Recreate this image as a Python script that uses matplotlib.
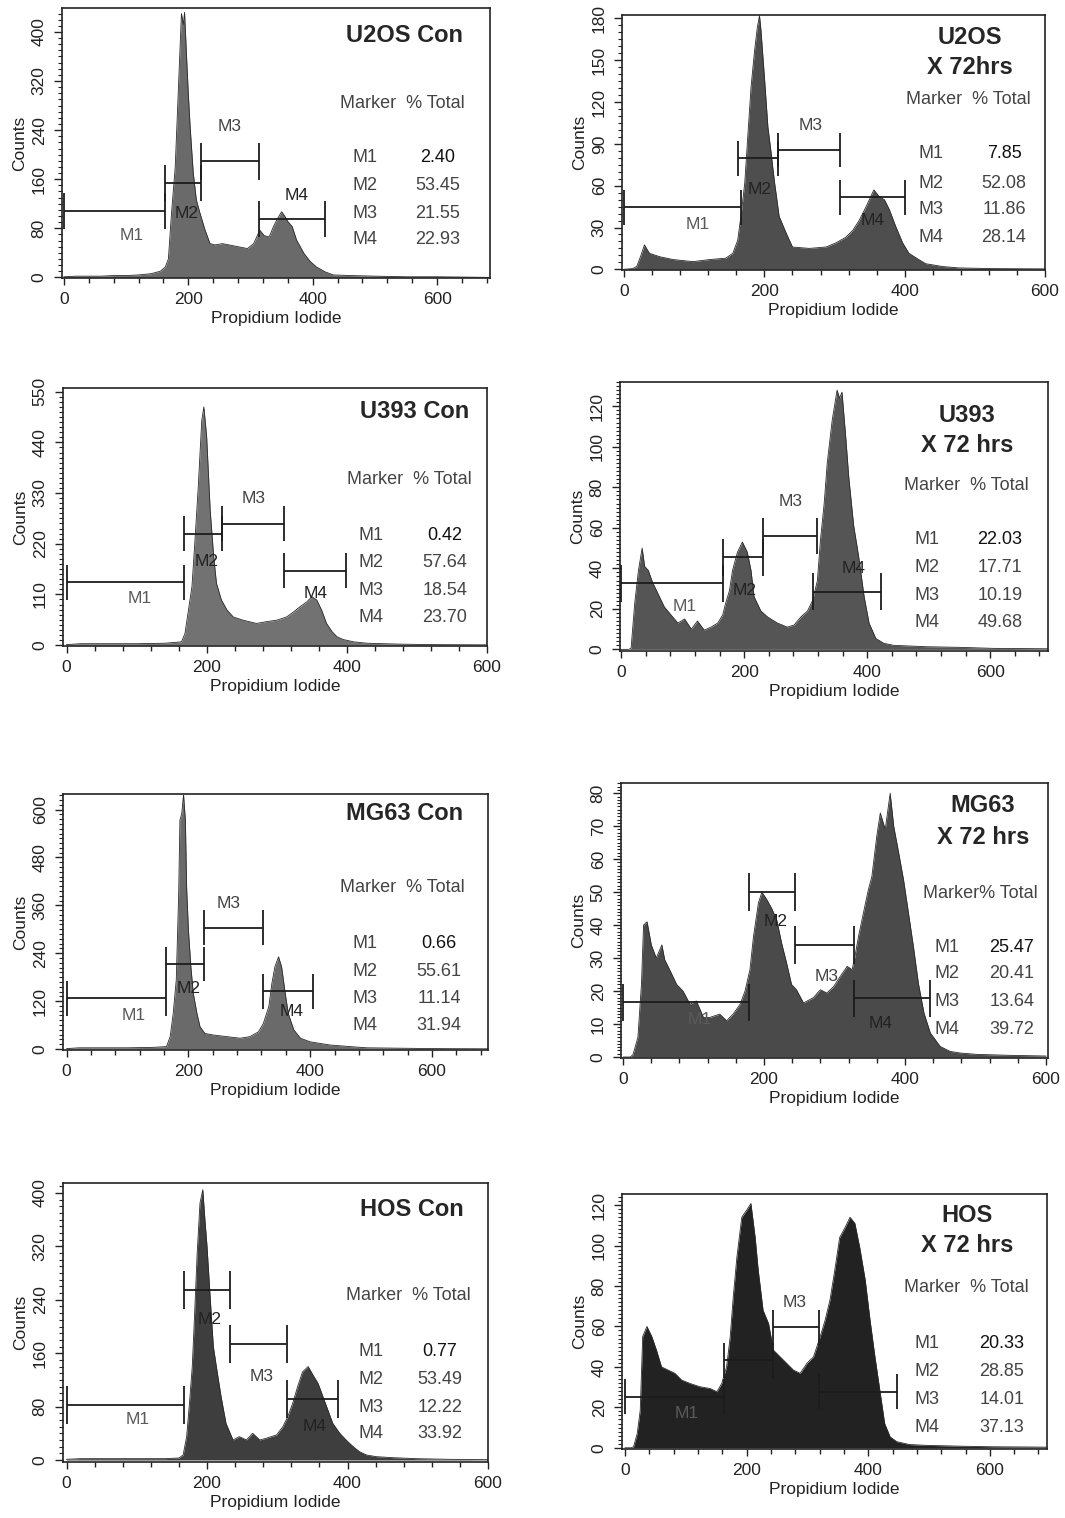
"""
Cell-cycle PI histograms: four cell lines, control vs 72 hrs treatment.
Eight panels laid out 4 x 2 on a page-sized figure.
"""

import matplotlib.pyplot as plt
import matplotlib.ticker as mticker

W, H = 1065, 1518

plt.rcParams['font.family'] = ['Liberation Sans', 'DejaVu Sans']

# ── Histogram readings: Propidium Iodide channel vs counts ────────────────────
u2os_con_pi = [0, 20, 40, 60, 80, 100, 120, 140, 155, 163, 168, 173, 179, 184, 189, 192, 194, 197,
               200, 203, 208, 213, 219, 227, 235, 243, 255, 270, 285, 295, 305, 315, 322, 330,
               337, 343, 350, 355, 360, 367, 374, 380, 386, 396, 406, 420, 433, 460, 500, 550, 600, 685]
u2os_con_counts = [1, 2, 2, 2, 3, 3, 4, 6, 10, 17, 30, 104, 180, 305, 430, 412, 432, 365,
                   300, 245, 170, 126, 104, 77, 55, 53, 55, 52, 49, 47, 55, 77, 68, 66,
                   83, 95, 107, 100, 91, 83, 61, 50, 39, 26, 17, 9, 4, 3, 2, 1, 1, 0]

u2os_72_pi = [0, 12, 18, 24, 29, 36, 51, 70, 98, 122, 145, 155, 162, 167, 172, 176,
              181, 186, 190, 193, 195, 200, 205, 209, 214, 221, 231, 240, 264, 288, 302, 316,
              326, 335, 345, 356, 364, 371, 378, 387, 397, 406, 420, 430, 454, 477, 525, 600]
u2os_72_counts = [0, 0.5, 2, 10, 17.5, 11.5, 9, 7, 5.5, 7, 8, 11.5, 21, 40, 62, 93,
                  131, 157, 174, 182, 172, 138, 102, 86, 64, 38, 26, 16, 15, 16, 19, 23,
                  28, 35, 45, 57, 52, 50, 43, 31, 19, 11.5, 7, 4, 2, 1, 0.5, 0.3]

u393_con_pi = [0, 20, 60, 100, 140, 164, 169, 174, 179, 183, 188, 193, 196, 200, 205, 210,
               214, 221, 229, 238, 252, 271, 286, 300, 314, 324, 333, 343, 350, 357, 364, 371,
               379, 386, 395, 410, 429, 476, 524, 600]
u393_con_counts = [1, 3, 3, 3, 4, 7, 25, 76, 127, 220, 344, 488, 517, 452, 293, 192,
                   134, 98, 76, 61, 54, 47, 51, 54, 61, 72, 83, 94, 105, 98, 76, 47,
                   29, 18, 12, 7, 4, 2, 1, 0.5]

u393_72_pi = [0, 12, 16, 22, 28, 34, 38, 44, 51, 59, 70, 81, 92, 103, 114, 124,
              135, 146, 157, 165, 170, 176, 181, 189, 197, 205, 211, 216, 227, 238, 254, 270,
              281, 292, 303, 311, 319, 324, 330, 335, 343, 351, 355, 359, 365, 370, 378, 386,
              395, 403, 414, 427, 443, 497, 551, 605, 694]
u393_72_counts = [0, 0, 0.5, 23, 39, 50, 41, 39, 33, 28, 21, 17, 13, 15, 10, 14,
                  9.5, 11, 13, 17, 23, 29, 39, 48, 53, 48, 39, 26, 19, 16, 13, 11,
                  12, 16, 19, 24, 34, 54, 72, 92, 113, 128, 124, 127, 105, 85, 61, 46,
                  26, 13, 5.4, 3, 2, 1.3, 1, 0.5, 0.3]

mg63_con_pi = [0, 20, 60, 100, 140, 164, 170, 175, 180, 184, 186, 189, 192, 195, 197, 200,
               204, 208, 214, 219, 227, 241, 263, 285, 301, 315, 323, 332, 337, 342, 348, 353,
               359, 364, 373, 384, 400, 416, 433, 466, 493, 548, 603, 692]
mg63_con_counts = [1, 3, 3, 3, 4, 6, 31, 89, 173, 390, 573, 590, 637, 573, 406, 298,
                   206, 139, 89, 56, 39, 35, 31, 27, 31, 43, 64, 106, 164, 206, 231, 206,
                   139, 89, 48, 27, 18, 14, 10, 6, 3, 2, 1, 0.5]

mg63_72_pi = [0, 10, 14, 21, 26, 29, 34, 40, 47, 55, 59, 66, 76, 85, 95, 104,
              114, 123, 137, 147, 156, 166, 173, 180, 185, 192, 197, 204, 211, 218, 225, 232,
              239, 246, 256, 270, 280, 289, 299, 308, 318, 325, 329, 334, 339, 344, 348, 353,
              360, 365, 372, 379, 384, 391, 398, 405, 412, 419, 427, 436, 450, 464, 479, 502,
              550, 600]
mg63_72_counts = [0, 0, 0.7, 6, 22, 40, 41, 34, 30, 34, 29.5, 26.5, 22, 20, 16, 17,
                  12, 12, 13, 11, 13, 16, 20, 26.5, 36.5, 46.7, 50, 47.7, 45, 41.6, 34.5, 28.5,
                  22, 20.4, 16.4, 18, 20.4, 19.4, 21.4, 24.4, 27.5, 26.5, 30.5, 36.5, 41.6, 46.7, 50.7, 54.7,
                  67, 74, 69, 80, 70, 62, 53.7, 43.6, 33.5, 22.4, 13.3, 7.3, 3.2, 1.7, 1.2, 0.8,
                  0.5, 0.3]

hos_con_pi = [0, 20, 60, 100, 140, 160, 166, 171, 175, 179, 182, 186, 190, 194, 197, 200,
              205, 209, 214, 220, 227, 237, 246, 256, 265, 275, 284, 299, 308, 315, 322, 329,
              336, 344, 351, 358, 365, 372, 379, 389, 398, 408, 417, 427, 441, 464, 498, 545, 600]
hos_con_counts = [1, 2, 2, 2, 2, 3, 7.5, 35, 85, 140, 210, 310, 385, 405, 360, 320,
                  235, 170, 135, 95, 55, 30, 35, 30, 40, 30, 32.5, 37.5, 50, 65, 85, 110,
                  132, 140, 127, 115, 95, 75, 55, 40, 30, 20, 12.5, 7.5, 5, 3.5, 2, 1, 0.5]

hos_72_pi = [0, 10, 14, 20, 25, 29, 36, 44, 52, 60, 71, 82, 93, 107, 123, 140,
             151, 159, 167, 173, 178, 184, 192, 200, 207, 214, 219, 227, 236, 244, 255, 266,
             277, 288, 299, 310, 321, 329, 337, 345, 353, 362, 370, 378, 386, 395, 403, 411,
             419, 427, 436, 447, 468, 496, 551, 605, 660, 694]
hos_72_counts = [0, 0, 0.5, 7, 18.6, 55, 60, 55, 48, 40, 38.4, 36.8, 33.5, 31.8, 30.2, 29.3,
                 27.7, 31.8, 40, 55, 74.7, 94.4, 114, 117.5, 120.8, 104, 87.9, 68, 61.5, 48.3, 45, 41.7,
                 38.4, 36.8, 41.7, 45, 55, 63, 73, 87.9, 104, 109, 114, 111, 99, 83, 63, 45,
                 28.5, 12, 5.4, 3, 1.6, 1.2, 0.8, 0.5, 0.4, 0.3]

# ── Marker gates (start, end, drawn level) and % Total ───────────────────────
markers = ['M1', 'M2', 'M3', 'M4']

u2os_con_gate_start = [0, 163, 221, 313]
u2os_con_gate_end   = [163, 221, 313, 419]
u2os_con_gate_level = [108, 154, 189, 95]
u2os_con_pct        = ['2.40', '53.45', '21.55', '22.93']

u2os_72_gate_start = [0, 163, 219, 308]
u2os_72_gate_end   = [167, 219, 308, 401]
u2os_72_gate_level = [44.5, 79.6, 85.6, 51.6]
u2os_72_pct        = ['7.85', '52.08', '11.86', '28.14']

u393_con_gate_start = [0, 168, 222, 310]
u393_con_gate_end   = [168, 222, 310, 399]
u393_con_gate_level = [136, 242, 263, 161]
u393_con_pct        = ['0.42', '57.64', '18.54', '23.70']

u393_72_gate_start = [0, 166, 231, 312]
u393_72_gate_end   = [166, 231, 319, 422]
u393_72_gate_level = [32.6, 45.5, 56, 28.5]
u393_72_pct        = ['22.03', '17.71', '10.19', '49.68']

mg63_con_gate_start = [0, 163, 226, 322]
mg63_con_gate_end   = [163, 226, 322, 405]
mg63_con_gate_level = [127, 213, 304, 145]
mg63_con_pct        = ['0.66', '55.61', '11.14', '31.94']

mg63_72_gate_start = [0, 178, 244, 327]
mg63_72_gate_end   = [178, 244, 327, 436]
mg63_72_gate_level = [16.6, 50, 34, 17.8]
mg63_72_pct        = ['25.47', '20.41', '13.64', '39.72']

hos_con_gate_start = [0, 167, 233, 314]
hos_con_gate_end   = [167, 233, 314, 386]
hos_con_gate_level = [82.5, 254, 174, 91]
hos_con_pct        = ['0.77', '53.49', '12.22', '33.92']

hos_72_gate_start = [0, 163, 244, 319]
hos_72_gate_end   = [163, 244, 319, 448]
hos_72_gate_level = [25.2, 43.3, 59.5, 27.7]
hos_72_pct        = ['20.33', '28.85', '14.01', '37.13']

# ── Layout (pixel frames, limits, label spots) ───────────────────────────────
panels = [
    dict(pi=u2os_con_pi, counts=u2os_con_counts, gs=u2os_con_gate_start, ge=u2os_con_gate_end,
         gl=u2os_con_gate_level, pct=u2os_con_pct,
         frame=(62, 8, 490, 278), xlim=(-3, 685), ylim=(-1, 439), ystep=80, ndiv=8,
         fill='#6a6a6a', title=[('U2OS Con', 405, 35)],
         mlab=[(109, 69), (197, 104), (267, 246), (374, 134)],
         head=(402, 103), col=(352, 438), rows=[158, 185, 213, 240]),
    dict(pi=u2os_72_pi, counts=u2os_72_counts, gs=u2os_72_gate_start, ge=u2os_72_gate_end,
         gl=u2os_72_gate_level, pct=u2os_72_pct,
         frame=(622, 15, 1045, 270), xlim=(-3, 600), ylim=(-0.5, 182.5), ystep=30, ndiv=6,
         fill='#4e4e4e', title=[('U2OS', 970, 38), ('X 72hrs', 970, 68)],
         mlab=[(105, 32), (193, 57), (266, 103.5), (354, 35)],
         head=(968, 99), col=(918, 1004), rows=[154, 183, 210, 237]),
    dict(pi=u393_con_pi, counts=u393_con_counts, gs=u393_con_gate_start, ge=u393_con_gate_end,
         gl=u393_con_gate_level, pct=u393_con_pct,
         frame=(63, 388, 487, 646), xlim=(-5, 600), ylim=(-2, 558), ystep=110, ndiv=10,
         fill='#727272', title=[('U393 Con', 415, 412)],
         mlab=[(105, 101), (200, 181), (267, 318), (355, 111)],
         head=(409, 480), col=(358, 445), rows=[535, 563, 590, 618]),
    dict(pi=u393_72_pi, counts=u393_72_counts, gs=u393_72_gate_start, ge=u393_72_gate_end,
         gl=u393_72_gate_level, pct=u393_72_pct,
         frame=(620, 382, 1048, 651), xlim=(-2, 694), ylim=(-0.8, 132), ystep=20, ndiv=10,
         fill='#555555', title=[('U393', 967, 415), ('X 72 hrs', 967, 445)],
         mlab=[(103, 21), (200, 29), (276, 73), (378, 40)],
         head=(966, 485), col=(915, 1000), rows=[540, 568, 596, 623]),
    dict(pi=mg63_con_pi, counts=mg63_con_counts, gs=mg63_con_gate_start, ge=mg63_con_gate_end,
         gl=mg63_con_gate_level, pct=mg63_con_pct,
         frame=(63, 794, 488, 1050), xlim=(-6, 692), ylim=(-2.5, 639), ystep=120, ndiv=10,
         fill='#6a6a6a', title=[('MG63 Con', 405, 813)],
         mlab=[(110, 85), (200, 152), (266, 365), (370, 93)],
         head=(402, 888), col=(353, 439), rows=[943, 971, 998, 1026]),
    dict(pi=mg63_72_pi, counts=mg63_72_counts, gs=mg63_72_gate_start, ge=mg63_72_gate_end,
         gl=mg63_72_gate_level, pct=mg63_72_pct,
         frame=(621, 783, 1048, 1058), xlim=(-3, 603), ylim=(-0.3, 83.1), ystep=10, ndiv=10,
         fill='#4a4a4a', title=[('MG63', 983, 805), ('X 72 hrs', 983, 837)],
         mlab=[(109, 11.5), (217, 41), (289, 24.4), (365, 10.3)],
         head=(980, 893), col=(935, 1012), rows=[947, 974, 1002, 1029], tight=True),
    dict(pi=hos_con_pi, counts=hos_con_counts, gs=hos_con_gate_start, ge=hos_con_gate_end,
         gl=hos_con_gate_level, pct=hos_con_pct,
         frame=(63, 1183, 488, 1462), xlim=(-5, 600), ylim=(-3, 415), ystep=80, ndiv=8,
         fill='#3e3e3e', title=[('HOS Con', 412, 1210)],
         mlab=[(102, 60), (204, 210), (278, 125), (353, 50)],
         head=(408, 1295), col=(358, 440), rows=[1352, 1379, 1407, 1434]),
    dict(pi=hos_72_pi, counts=hos_72_counts, gs=hos_72_gate_start, ge=hos_72_gate_end,
         gl=hos_72_gate_level, pct=hos_72_pct,
         frame=(622, 1194, 1047, 1449), xlim=(-5, 694), ylim=(-0.6, 125.5), ystep=20, ndiv=10,
         fill='#222222', title=[('HOS', 967, 1215), ('X 72 hrs', 967, 1245)],
         mlab=[(101, 17), (203, 29), (279, 72), (397, 15)],
         head=(966, 1288), col=(915, 1002), rows=[1344, 1372, 1399, 1427]),
]
label_colors = ['#5a5a5a', '#222222', '#444444', '#222222']

fig = plt.figure(figsize=(W / 100, H / 100), dpi=100)
fig.patch.set_facecolor('white')


def fx(px):
    return px / W


def fy(py):
    return 1 - py / H


for p in panels:
    left, top, right, bottom = p['frame']
    ax = fig.add_axes([fx(left), fy(bottom), (right - left) / W, (bottom - top) / H])

    # histogram
    ax.fill_between(p['pi'], p['counts'], 0, color=p['fill'], lw=0)
    ax.plot(p['pi'], p['counts'], color='#2a2a2a', lw=0.6)

    # marker gates
    cap = 0.068 * (p['ylim'][1] - p['ylim'][0])
    for s, e, lev in zip(p['gs'], p['ge'], p['gl']):
        ax.plot([s, e], [lev, lev], color='#1c1c1c', lw=1.3, solid_capstyle='butt')
        ax.vlines([s, e], lev - cap, lev + cap, color='#1c1c1c', lw=1.3)
    for name, (lx, ly), c in zip(markers, p['mlab'], label_colors):
        ax.text(lx, ly, name, ha='center', va='center', fontsize=12.5, color=c)

    ax.set_xlim(*p['xlim'])
    ax.set_ylim(*p['ylim'])
    ax.xaxis.set_major_locator(mticker.MultipleLocator(200))
    ax.xaxis.set_minor_locator(mticker.MultipleLocator(40))
    ax.yaxis.set_major_locator(mticker.MultipleLocator(p['ystep']))
    ax.yaxis.set_minor_locator(mticker.AutoMinorLocator(p['ndiv']))
    ax.tick_params(axis='both', which='both', direction='out', colors='#222', labelsize=12.5)
    ax.tick_params(axis='x', which='major', length=5, width=1, pad=5)
    ax.tick_params(axis='x', which='minor', length=3.5, width=1)
    ax.tick_params(axis='y', which='major', length=6, width=1, pad=5)
    ax.tick_params(axis='y', which='minor', length=3, width=0.8)
    for lab in ax.get_yticklabels():
        lab.set_rotation(90)
        lab.set_va('center')
    for sp in ax.spines.values():
        sp.set_linewidth(1.2)
        sp.set_color('#222')

    ax.set_xlabel('Propidium Iodide', fontsize=12.5, color='#222', labelpad=3)
    ax.set_ylabel('Counts', fontsize=12.5, color='#222', labelpad=3)

    # panel title
    for txt, px, py in p['title']:
        fig.text(fx(px), fy(py), txt, ha='center', va='center', fontsize=17,
                 fontweight='bold', color='#262626')

    # marker table
    hx, hy = p['head']
    header = 'Marker% Total' if p.get('tight') else 'Marker  % Total'
    fig.text(fx(hx), fy(hy), header, ha='center', va='center', fontsize=13, color='#444444')
    xl, xc = p['col']
    for i, (name, val, ry) in enumerate(zip(markers, p['pct'], p['rows'])):
        fig.text(fx(xl), fy(ry), name, ha='left', va='center', fontsize=13, color='#444444')
        fig.text(fx(xc), fy(ry), val, ha='center', va='center', fontsize=13,
                 color='#111111' if i == 0 else '#444444')

fig.savefig('out.png', dpi=100, facecolor='white')
